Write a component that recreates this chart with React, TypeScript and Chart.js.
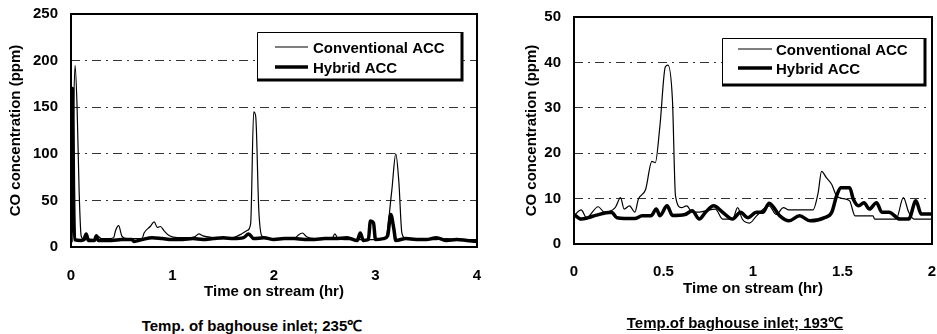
import React, { useEffect, useRef } from "react";
import { Chart, registerables } from "chart.js";

Chart.register(...registerables);

// ---------- data ----------
const leftXTicks = [0, 1, 2, 3, 4];
const leftYTicks = [0, 50, 100, 150, 200, 250];
const rightXTicks = [0, 0.5, 1, 1.5, 2];
const rightYTicks = [0, 10, 20, 30, 40, 50];

const seriesNames = ["Conventional ACC", "Hybrid ACC"];

// Left panel (baghouse inlet 235 °C): [hr, ppm]
const leftConventional: [number, number][] = [
  [0, 2], [0.02, 120], [0.04, 195], [0.06, 150], [0.08, 60], [0.1, 12], [0.12, 9], [0.14, 14],
  [0.17, 9], [0.22, 8], [0.26, 12], [0.3, 9], [0.36, 9], [0.42, 10], [0.44, 18], [0.47, 23],
  [0.5, 12], [0.55, 9], [0.62, 9], [0.7, 9], [0.72, 15], [0.78, 22], [0.82, 27], [0.85, 21],
  [0.88, 22], [0.92, 17], [0.97, 12], [1.05, 10], [1.15, 10], [1.22, 11], [1.26, 14], [1.3, 12],
  [1.4, 10], [1.5, 9], [1.6, 10], [1.68, 14], [1.74, 18], [1.77, 25], [1.8, 145], [1.82, 140],
  [1.85, 40], [1.88, 12], [1.95, 9], [2.05, 9], [2.15, 9], [2.2, 9], [2.24, 13], [2.28, 15],
  [2.32, 11], [2.4, 9], [2.5, 9], [2.57, 9], [2.6, 14], [2.63, 9], [2.7, 8], [2.8, 8],
  [2.9, 8], [3.0, 8], [3.1, 10], [3.16, 60], [3.2, 100], [3.23, 70], [3.26, 15], [3.3, 9],
  [3.4, 8], [3.5, 8], [3.6, 8], [3.7, 9], [3.8, 8], [3.9, 8], [4.0, 8],
];
const leftHybrid: [number, number][] = [
  [0, 5], [0.005, 160], [0.015, 170], [0.025, 60], [0.035, 8], [0.1, 7], [0.13, 8], [0.15, 14],
  [0.17, 7], [0.23, 7], [0.25, 12], [0.27, 7], [0.4, 7], [0.5, 8], [0.6, 8], [0.62, 6],
  [0.7, 8], [0.8, 10], [0.9, 9], [1.0, 8], [1.1, 8], [1.2, 9], [1.3, 8], [1.4, 9],
  [1.5, 10], [1.6, 9], [1.7, 10], [1.75, 14], [1.8, 9], [1.9, 10], [2.0, 8], [2.1, 9],
  [2.2, 9], [2.3, 8], [2.4, 8], [2.5, 9], [2.6, 9], [2.72, 10], [2.82, 7], [2.85, 15],
  [2.88, 7], [2.93, 8], [2.95, 28], [2.98, 26], [3.0, 8], [3.08, 9], [3.12, 12], [3.15, 35],
  [3.18, 20], [3.2, 7], [3.3, 9], [3.4, 8], [3.5, 8], [3.6, 10], [3.7, 7], [3.8, 8],
  [3.9, 7], [4.0, 6],
];

// Right panel (baghouse inlet 193 °C): [hr, ppm]
const rightConventional: [number, number][] = [
  [0, 6.2], [0.04, 7.5], [0.07, 5.8], [0.135, 8.2], [0.17, 7], [0.23, 8], [0.26, 10.2],
  [0.28, 7.7], [0.31, 8.4], [0.34, 7], [0.36, 9.9], [0.4, 12], [0.435, 18.2], [0.454, 17.9],
  [0.48, 26], [0.51, 39], [0.525, 39.4], [0.55, 31.7], [0.567, 10.6], [0.6, 8], [0.63, 8.4],
  [0.66, 7], [0.7, 7], [0.735, 7.3], [0.79, 7.7], [0.83, 5.5], [0.886, 5.5], [0.914, 8],
  [0.94, 5.5], [0.98, 4.6], [1.02, 6.2], [1.09, 8.4], [1.13, 6.5], [1.17, 8], [1.2, 7.5],
  [1.335, 7.5], [1.364, 11.3], [1.383, 16], [1.41, 14.6], [1.44, 13.1], [1.467, 10.6],
  [1.505, 10], [1.54, 9.5], [1.57, 6.2], [1.67, 6.2], [1.68, 5.5], [1.8, 5.5], [1.84, 10.2],
  [1.87, 7], [1.9, 5.5], [2, 5.5],
];
const rightHybrid: [number, number][] = [
  [0, 6.5], [0.04, 5.5], [0.08, 5.8], [0.12, 6.3], [0.21, 7], [0.24, 5.8], [0.34, 5.6],
  [0.38, 6.2], [0.43, 6.2], [0.46, 7.7], [0.48, 6.2], [0.52, 8.4], [0.55, 6.3], [0.62, 6.5],
  [0.66, 7.3], [0.7, 5.5], [0.735, 7], [0.78, 8.4], [0.83, 7], [0.886, 5.5], [0.93, 7],
  [0.97, 5.8], [1.02, 7], [1.055, 7], [1.09, 9], [1.15, 6.2], [1.2, 5.1], [1.26, 6.2],
  [1.32, 5.1], [1.4, 5.8], [1.44, 7], [1.467, 10.6], [1.49, 12.4], [1.54, 12.4], [1.56, 9.9],
  [1.59, 8.4], [1.62, 9.1], [1.65, 7.7], [1.69, 9.1], [1.72, 7], [1.76, 7], [1.82, 5.5],
  [1.87, 5.5], [1.91, 9.5], [1.94, 6.6], [2, 6.6],
];

const xTitle = "Time on stream (hr)";
const yTitle = "CO concentration (ppm)";
const leftCaption = "Temp. of baghouse inlet; 235℃";
const rightCaption = "Temp.of baghouse inlet; 193℃";

// ---------- plugin ----------
const FONT = "'Liberation Sans', Arial, sans-serif";

const framePlugin = {
  id: "frameLegend",
  afterDatasetsDraw(chart: any, _args: any, opts: any) {
    const { ctx, chartArea: a } = chart;
    ctx.save();
    ctx.strokeStyle = "#000";
    ctx.lineWidth = 2;
    ctx.strokeRect(a.left, a.top, a.right - a.left, a.bottom - a.top);
    const L = opts.box;
    if (L) {
      ctx.fillStyle = "#fff";
      ctx.fillRect(L.x, L.y, L.w, L.h);
      ctx.lineWidth = 1;
      ctx.strokeStyle = "#000";
      ctx.beginPath();
      ctx.moveTo(L.x + 0.5, L.y + L.h);
      ctx.lineTo(L.x + 0.5, L.y + 0.5);
      ctx.lineTo(L.x + L.w, L.y + 0.5);
      ctx.stroke();
      ctx.lineWidth = 3;
      ctx.beginPath();
      ctx.moveTo(L.x + L.w, L.y);
      ctx.lineTo(L.x + L.w, L.y + L.h);
      ctx.lineTo(L.x, L.y + L.h);
      ctx.stroke();
      const datasets = chart.data.datasets;
      ctx.font = `bold 15px ${FONT}`;
      ctx.textBaseline = "middle";
      ctx.fillStyle = "#000";
      datasets.forEach((ds: any, i: number) => {
        const ly = L.rowY[i];
        ctx.lineWidth = ds.borderWidth;
        ctx.beginPath();
        ctx.moveTo(L.lineX0, ly);
        ctx.lineTo(L.lineX1, ly);
        ctx.stroke();
        ctx.fillText(ds.label, L.textX, ly + 2);
      });
    }
    ctx.restore();
  },
};

type PanelProps = {
  left: number;
  top: number;
  width: number;
  height: number;
  pad: { left: number; top: number; right: number; bottom: number };
  yWidth: number;
  xHeight: number;
  xTickPad: number;
  xMax: number;
  xStep: number;
  yMax: number;
  yStep: number;
  conv: [number, number][];
  hyb: [number, number][];
  box: any;
};

function Panel(p: PanelProps) {
  const ref = useRef<HTMLCanvasElement | null>(null);
  useEffect(() => {
    if (!ref.current) return;
    const gridColor = (c: any) =>
      c.tick && (c.tick.value === 0 || c.tick.value === p.yMax) ? "rgba(0,0,0,0)" : "#333";
    const chart = new Chart(ref.current, {
      type: "line",
      data: {
        datasets: [
          {
            label: seriesNames[0],
            data: p.conv.map(([x, y]) => ({ x, y })),
            borderColor: "#000",
            borderWidth: 1.2,
            pointRadius: 0,
            cubicInterpolationMode: "monotone",
            fill: false,
            order: 1,
          },
          {
            label: seriesNames[1],
            data: p.hyb.map(([x, y]) => ({ x, y })),
            borderColor: "#000",
            borderWidth: 3.5,
            pointRadius: 0,
            cubicInterpolationMode: "monotone",
            fill: false,
            order: 2,
          },
        ],
      },
      options: {
        animation: false,
        responsive: false,
        maintainAspectRatio: false,
        layout: { padding: p.pad },
        plugins: {
          legend: { display: false },
          tooltip: { enabled: false },
          frameLegend: { box: p.box },
        } as any,
        scales: {
          x: {
            type: "linear",
            min: 0,
            max: p.xMax,
            afterFit: (s: any) => {
              s.height = p.xHeight;
            },
            ticks: {
              stepSize: p.xStep,
              color: "#000",
              padding: 0,
              maxRotation: 0,
              callback: (v: any) => `${v}`,
              font: { family: FONT, size: 15, weight: "bold" },
            },
            grid: { display: false, drawTicks: true, tickLength: p.xTickPad },
            border: { display: false },
            title: {
              display: true,
              text: xTitle,
              color: "#000",
              font: { family: FONT, size: 15, weight: "bold" },
              padding: { top: 0, bottom: 4 },
            },
          },
          y: {
            type: "linear",
            min: 0,
            max: p.yMax,
            afterFit: (s: any) => {
              s.width = p.yWidth;
            },
            ticks: {
              stepSize: p.yStep,
              color: "#000",
              padding: 0,
              font: { family: FONT, size: 15, weight: "bold" },
            },
            grid: {
              color: gridColor,
              lineWidth: 1,
              drawTicks: true,
              tickLength: 13,
              tickColor: "rgba(0,0,0,0)",
            },
            border: { display: false, dash: [9, 5, 2, 5] },
            title: {
              display: true,
              text: yTitle,
              color: "#000",
              font: { family: FONT, size: 15, weight: "bold" },
              padding: { top: 4, bottom: 0 },
            },
          },
        },
      } as any,
      plugins: [framePlugin],
    });
    return () => chart.destroy();
  }, []);
  return (
    <canvas
      ref={ref}
      width={p.width}
      height={p.height}
      style={{ position: "absolute", left: p.left, top: p.top, width: p.width, height: p.height }}
    />
  );
}

export default function App() {
  const captionStyle: React.CSSProperties = {
    position: "absolute",
    fontFamily: FONT,
    fontWeight: "bold",
    fontSize: 15,
    color: "#000",
    textAlign: "center",
    whiteSpace: "nowrap",
  };
  return (
    <div style={{ width: 921, height: 318, background: "#fff" }}>
      <Panel
        left={0}
        top={0}
        width={482}
        height={305}
        pad={{ left: 3, top: 14, right: 5, bottom: 0 }}
        yWidth={68}
        xHeight={58}
        xTickPad={20}
        xMax={leftXTicks[leftXTicks.length - 1]}
        xStep={leftXTicks[1] - leftXTicks[0]}
        yMax={leftYTicks[leftYTicks.length - 1]}
        yStep={leftYTicks[1] - leftYTicks[0]}
        conv={leftConventional}
        hyb={leftHybrid}
        box={{ x: 257, y: 32, w: 205, h: 48, rowY: [47, 67], lineX0: 275, lineX1: 308, textX: 313 }}
      />
      <Panel
        left={480}
        top={0}
        width={457}
        height={302}
        pad={{ left: 39, top: 17, right: 5, bottom: 0 }}
        yWidth={55}
        xHeight={58}
        xTickPad={19}
        xMax={rightXTicks[rightXTicks.length - 1]}
        xStep={rightXTicks[1] - rightXTicks[0]}
        yMax={rightYTicks[rightYTicks.length - 1]}
        yStep={rightYTicks[1] - rightYTicks[0]}
        conv={rightConventional}
        hyb={rightHybrid}
        box={{ x: 242, y: 38, w: 203, h: 47, rowY: [49, 68], lineX0: 258, lineX1: 292, textX: 296 }}
      />
      <div style={{ ...captionStyle, left: 100, width: 304, top: 315 }}>{leftCaption}</div>
      <div style={{ ...captionStyle, left: 583, width: 304, top: 312 }}>
        <span style={{ textDecoration: "underline" }}>{rightCaption}</span>
      </div>
    </div>
  );
}
